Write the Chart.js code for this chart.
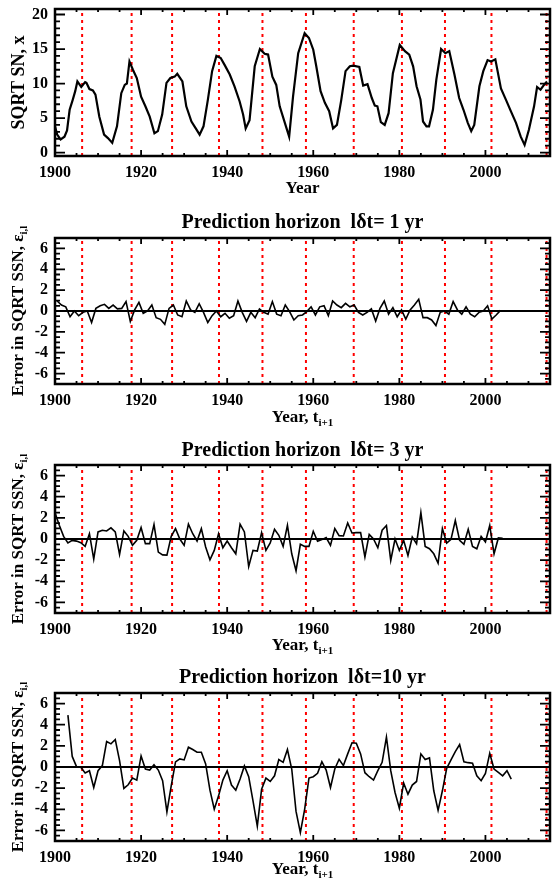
<!DOCTYPE html>
<html>
<head>
<meta charset="utf-8">
<title>SQRT sunspot number and prediction errors</title>
<script src="https://cdn.jsdelivr.net/npm/chart.js@4.4.1/dist/chart.umd.min.js"></script>
<style>
  html, body { margin: 0; padding: 0; background: #fff; }
  .panel { position: absolute; left: 0; }
</style>
</head>
<body>
<canvas id="sn" class="panel" width="552" height="200" style="top:0px"></canvas>
<canvas id="h1" class="panel" width="552" height="230" style="top:200px"></canvas>
<canvas id="h3" class="panel" width="552" height="226" style="top:430px"></canvas>
<canvas id="h10" class="panel" width="552" height="226" style="top:656px"></canvas>
<script>
const FONT = "'Liberation Serif', 'Times New Roman', serif";
Chart.defaults.font.family = FONT;
Chart.defaults.font.size = 16;
Chart.defaults.font.weight = 'bold';
Chart.defaults.color = '#000';

// shared x axis
const xTickYears = [1900, 1920, 1940, 1960, 1980, 2000];
// red dotted markers at the solar cycle maxima
const cycleMaxYears = [1906.3, 1917.8, 1927.2, 1938.1, 1948.2, 1958.3, 1969.4, 1980.6, 1990.6, 2001.4, 2014.2];

const snTicks = [0, 5, 10, 15, 20];
const errTicks = [-6, -4, -2, 0, 2, 4, 6];

// smoothed sqrt sunspot number
const snYears = [1900, 1900.5, 1901.3, 1902.2, 1902.8, 1903.4, 1904.1, 1904.7, 1905.2, 1906.1,
  1907.0, 1907.3, 1908.0, 1908.8, 1909.4, 1910.3, 1911.4, 1912.3, 1913.3, 1914.4,
  1915.4, 1916.2, 1916.7, 1917.3, 1918.1, 1919.0, 1920.0, 1921.0, 1922.0, 1923.1,
  1923.9, 1924.9, 1925.9, 1926.8, 1927.8, 1928.4, 1929.6, 1930.5, 1931.7, 1932.7,
  1933.6, 1934.5, 1935.5, 1936.5, 1937.5, 1938.5, 1939.4, 1940.6, 1941.7, 1942.9,
  1943.7, 1944.3, 1945.2, 1946.4, 1947.6, 1948.7, 1949.5, 1950.5, 1951.4, 1952.2,
  1953.4, 1954.4, 1955.3, 1956.5, 1958.0, 1959.0, 1960.0, 1960.7, 1961.7, 1962.7,
  1963.7, 1964.6, 1965.5, 1966.5, 1967.5, 1968.5, 1969.3, 1970.7, 1971.6, 1972.6,
  1973.6, 1974.3, 1974.9, 1975.7, 1976.6, 1977.5, 1978.5, 1980.1, 1981.3, 1982.3,
  1983.2, 1984.0, 1984.9, 1985.5, 1986.3, 1986.9, 1987.8, 1988.6, 1989.7, 1990.7,
  1991.6, 1992.8, 1993.9, 1994.9, 1995.9, 1996.7, 1997.4, 1998.6, 1999.5, 2000.5,
  2001.3, 2002.3, 2003.6, 2004.8, 2005.9, 2007.1, 2008.2, 2009.1, 2010.1, 2011.3,
  2012.0, 2012.8, 2013.6, 2014.3];
const snSqrt = [3.8, 2.6, 1.9, 2.3, 3.2, 6.2, 7.6, 8.9, 10.3, 9.5,
  10.2, 10.1, 9.2, 9.0, 8.4, 5.2, 2.6, 2.1, 1.4, 3.8,
  8.6, 9.8, 10.0, 13.2, 12.0, 10.8, 8.1, 6.7, 5.2, 2.8,
  3.1, 5.5, 10.1, 10.8, 11.0, 11.4, 10.3, 6.7, 4.5, 3.5,
  2.6, 3.8, 7.6, 11.8, 14.0, 13.7, 12.7, 11.3, 9.6, 7.4,
  5.5, 3.5, 4.7, 12.5, 15.0, 14.3, 14.2, 11.0, 9.8, 6.7,
  4.3, 2.3, 8.1, 14.4, 17.3, 16.6, 14.9, 12.5, 8.9, 7.2,
  6.0, 3.5, 4.0, 7.6, 11.8, 12.5, 12.6, 12.4, 9.7, 9.9,
  7.9, 6.8, 6.7, 4.4, 4.0, 5.7, 11.5, 15.6, 14.7, 14.2,
  12.5, 9.6, 7.7, 4.5, 3.8, 3.8, 6.2, 10.6, 15.0, 14.4,
  14.7, 11.3, 7.9, 6.2, 4.3, 3.1, 4.0, 9.6, 11.8, 13.4,
  13.2, 13.5, 9.3, 7.6, 6.0, 4.3, 2.3, 1.1, 3.3, 6.7,
  9.5, 9.1, 9.8, 10.3];

// prediction error, horizon 1 yr
const years1yr = [1900.5, 1901.5, 1902.5, 1903.5, 1904.5, 1905.5, 1906.5, 1907.5, 1908.5, 1909.5,
  1910.5, 1911.5, 1912.5, 1913.5, 1914.5, 1915.5, 1916.5, 1917.5, 1918.5, 1919.5,
  1920.5, 1921.5, 1922.5, 1923.5, 1924.5, 1925.5, 1926.5, 1927.5, 1928.5, 1929.5,
  1930.5, 1931.5, 1932.5, 1933.5, 1934.5, 1935.5, 1936.5, 1937.5, 1938.5, 1939.5,
  1940.5, 1941.5, 1942.5, 1943.5, 1944.5, 1945.5, 1946.5, 1947.5, 1948.5, 1949.5,
  1950.5, 1951.5, 1952.5, 1953.5, 1954.5, 1955.5, 1956.5, 1957.5, 1958.5, 1959.5,
  1960.5, 1961.5, 1962.5, 1963.5, 1964.5, 1965.5, 1966.5, 1967.5, 1968.5, 1969.5,
  1970.5, 1971.5, 1972.5, 1973.5, 1974.5, 1975.5, 1976.5, 1977.5, 1978.5, 1979.5,
  1980.5, 1981.5, 1982.5, 1983.5, 1984.5, 1985.5, 1986.5, 1987.5, 1988.5, 1989.5,
  1990.5, 1991.5, 1992.5, 1993.5, 1994.5, 1995.5, 1996.5, 1997.5, 1998.5, 1999.5,
  2000.5, 2001.5, 2002.5, 2003.5];
const err1yr = [0.96, 0.57, 0.4, -0.55, 0.0, -0.45, -0.13, 0.0, -1.1, 0.25,
  0.5, 0.64, 0.25, 0.57, 0.2, 0.25, 0.9, -1.0, 0.1, 0.83,
  -0.22, 0.0, 0.57, -0.64, -0.8, -1.28, 0.25, 0.57, -0.38, -0.55,
  0.96, 0.1, -0.13, 0.7, -0.13, -1.1, -0.45, 0.0, -0.55, -0.22,
  -0.7, -0.45, 0.96, -0.13, -1.0, -0.13, -0.64, 0.2, -0.13, -0.3,
  0.9, -0.3, -0.45, 0.57, -0.06, -0.86, -0.45, -0.38, -0.06, 0.4,
  -0.38, 0.4, 0.5, -0.45, 0.96, 0.57, 0.32, 0.73, 0.4, 0.57,
  -0.13, -0.38, -0.13, 0.2, -0.96, 0.25, 0.96, -0.3, 0.32, -0.55,
  0.1, -0.77, 0.1, 0.57, 1.12, -0.64, -0.64, -0.86, -1.4, -0.13,
  0.0, -0.3, 0.9, 0.1, -0.3, 0.4, -0.3, -0.55, -0.13, 0.0,
  0.5, -0.77, -0.38, 0.06];

// prediction error, horizon 3 yr
const years3yr = [1900, 1901, 1902, 1903, 1904, 1905, 1906, 1907, 1908, 1909,
  1910, 1911, 1912, 1913, 1914, 1915, 1916, 1917, 1918, 1919,
  1920, 1921, 1922, 1923, 1924, 1925, 1926, 1927, 1928, 1929,
  1930, 1931, 1932, 1933, 1934, 1935, 1936, 1937, 1938, 1939,
  1940, 1941, 1942, 1943, 1944, 1945, 1946, 1947, 1948, 1949,
  1950, 1951, 1952, 1953, 1954, 1955, 1956, 1957, 1958, 1959,
  1960, 1961, 1962, 1963, 1964, 1965, 1966, 1967, 1968, 1969,
  1970, 1971, 1972, 1973, 1974, 1975, 1976, 1977, 1978, 1979,
  1980, 1981, 1982, 1983, 1984, 1985, 1986, 1987, 1988, 1989,
  1990, 1991, 1992, 1993, 1994, 1995, 1996, 1997, 1998, 1999,
  2000, 2001, 2002, 2003, 2004];
const err3yr = [2.48, 1.3, 0.25, -0.38, -0.13, -0.2, -0.35, -0.7, 0.5, -1.9,
  0.67, 0.83, 0.76, 1.05, 0.67, -1.46, 0.76, 0.25, -0.6, -0.13,
  1.08, -0.44, -0.44, 1.37, -1.24, -1.5, -1.52, 0.25, 0.98, 0.0,
  -0.6, 1.4, 0.5, -0.19, 0.98, -0.76, -1.97, -1.08, 0.5, -0.83,
  -0.19, -0.83, -1.4, 1.4, 0.67, -2.6, -1.08, -1.14, 0.6, -1.08,
  -0.38, 0.92, 0.35, -0.7, 1.3, -1.4, -3.0, -0.5, -0.7, -0.7,
  0.73, -0.22, -0.06, 0.13, -0.6, 0.98, 0.32, 0.29, 1.52, 0.57,
  0.6, 0.6, -1.7, 0.44, 0.0, -0.83, 0.83, 1.27, -2.03, 0.0,
  -1.08, -0.13, -1.56, 0.19, -0.44, 2.5, -0.7, -0.92, -1.4, -2.29,
  0.98, -0.38, -0.03, 1.75, -0.13, -0.5, 0.92, -0.7, -0.92, 0.25,
  -0.29, 1.27, -1.4, 0.1, 0.06];

// prediction error, horizon 10 yr
const years10yr = [1903, 1904, 1905, 1906, 1907, 1908, 1909,
  1910, 1911, 1912, 1913, 1914, 1915, 1916, 1917, 1918, 1919,
  1920, 1921, 1922, 1923, 1924, 1925, 1926, 1927, 1928, 1929,
  1930, 1931, 1932, 1933, 1934, 1935, 1936, 1937, 1938, 1939,
  1940, 1941, 1942, 1943, 1944, 1945, 1946, 1947, 1948, 1949,
  1950, 1951, 1952, 1953, 1954, 1955, 1956, 1957, 1958, 1959,
  1960, 1961, 1962, 1963, 1964, 1965, 1966, 1967, 1968, 1969,
  1970, 1971, 1972, 1973, 1974, 1975, 1976, 1977, 1978, 1979,
  1980, 1981, 1982, 1983, 1984, 1985, 1986, 1987, 1988, 1989,
  1990, 1991, 1992, 1993, 1994, 1995, 1996, 1997, 1998, 1999,
  2000, 2001, 2002, 2003, 2004, 2005, 2006];
const err10yr = [4.9, 1.0, 0.03, -0.03, -0.57, -0.35, -1.94,
  -0.35, 0.13, 2.41, 2.19, 2.6, 0.6, -2.03, -1.68, -1.05, -1.24,
  1.05, -0.19, -0.29, 0.22, -0.29, -1.3, -4.25, -1.78, 0.48, 0.76,
  0.67, 1.87, 1.65, 1.4, 1.4, 0.29, -2.19, -4.0, -2.73, -1.24,
  -0.35, -1.71, -2.19, -1.14, 0.1, -0.92, -3.2, -5.59, -2.1, -1.05,
  -1.37, -0.83, 0.7, 0.44, 1.65, -0.19, -4.2, -6.2, -4.0, -1.05,
  -0.92, -0.6, 0.5, -0.29, -1.94, -0.19, 0.73, 0.13, 1.24, 2.29,
  2.25, 1.24, -0.54, -0.92, -1.24, -0.35, 0.44, 2.83, -0.35, -2.41,
  -3.9, -1.52, -2.57, -1.71, -1.37, 1.24, 0.7, 0.86, -2.25, -4.1,
  -2.25, -0.13, 0.67, 1.46, 2.13, 0.5, 0.41, 0.35, -0.83, -1.3,
  -0.6, 1.3, -0.19, -0.51, -0.83, -0.35, -1.14];

function toPoints(xs, ys) {
  return xs.map((x, i) => ({ x: x, y: ys[i] }));
}

// text with optional subscript pieces, centred on (cx, cy)
function drawRich(ctx, parts, cx, cy, size) {
  const subSize = Math.round(size * 0.62);
  const widths = parts.map(p => {
    ctx.font = 'bold ' + (p.sub ? subSize : size) + 'px ' + FONT;
    return ctx.measureText(p.t).width;
  });
  let x = cx - widths.reduce((s, w) => s + w, 0) / 2;
  ctx.textAlign = 'left';
  ctx.textBaseline = 'middle';
  parts.forEach((p, i) => {
    ctx.font = 'bold ' + (p.sub ? subSize : size) + 'px ' + FONT;
    ctx.fillText(p.t, x, cy + (p.sub ? size * 0.32 : 0));
    x += widths[i];
  });
}

function makePanel(id, p) {
  const datasets = [{
    data: toPoints(p.years, p.values),
    borderColor: '#000', borderWidth: p.lineWidth, pointRadius: 0, order: 0
  }];
  if (p.zeroLine) {
    datasets.push({
      data: [{ x: 1900, y: 0 }, { x: 2015, y: 0 }],
      borderColor: '#000', borderWidth: 1.8, pointRadius: 0, order: 1
    });
  }
  cycleMaxYears.forEach(yr => {
    datasets.push({
      data: [{ x: yr, y: p.yMin }, { x: yr, y: p.yMax }],
      borderColor: '#ff0000', borderWidth: 2, borderDash: [3, 4], pointRadius: 0, order: 2
    });
  });

  const frame = {
    id: 'frame',
    afterDatasetsDraw(chart) {
      const { ctx, chartArea: a, scales: { x, y } } = chart;
      ctx.save();
      ctx.strokeStyle = '#000';
      ctx.lineWidth = 1.8;
      ctx.beginPath();
      // inward ticks: years every 5, long every 20
      for (let v = 1900; v <= 2015; v += 5) {
        const px = x.getPixelForValue(v);
        const len = (v - 1900) % 20 === 0 ? 6 : 3;
        ctx.moveTo(px, a.bottom); ctx.lineTo(px, a.bottom - len);
        ctx.moveTo(px, a.top); ctx.lineTo(px, a.top + len);
      }
      for (let k = Math.ceil(p.yMin / p.yMinor); k * p.yMinor <= p.yMax; k++) {
        const v = k * p.yMinor;
        const py = y.getPixelForValue(v);
        const major = Math.abs(v / p.yMajor - Math.round(v / p.yMajor)) < 1e-6;
        const len = major ? 10 : 5;
        ctx.moveTo(a.left, py); ctx.lineTo(a.left + len, py);
        ctx.moveTo(a.right, py); ctx.lineTo(a.right - len, py);
      }
      ctx.stroke();
      ctx.lineWidth = 2.5;
      ctx.strokeRect(a.left, a.top, a.right - a.left, a.bottom - a.top);
      ctx.restore();
    },
    afterDraw(chart) {
      const { ctx, chartArea: a } = chart;
      ctx.save();
      ctx.fillStyle = '#000';
      const cx = (a.left + a.right) / 2;
      if (p.title) {
        ctx.font = 'bold 20px ' + FONT;
        ctx.textAlign = 'center';
        ctx.textBaseline = 'middle';
        ctx.fillText(p.title, cx, p.titleY);
      }
      drawRich(ctx, p.xTitle, cx, p.xTitleY, 17);
      ctx.translate(19, (a.top + a.bottom) / 2);
      ctx.rotate(-Math.PI / 2);
      drawRich(ctx, p.yTitle, 0, 0, p.yTitleSize || 17);
      ctx.restore();
    }
  };

  return new Chart(document.getElementById(id), {
    type: 'line',
    data: { datasets: datasets },
    options: {
      responsive: false,
      animation: false,
      events: [],
      layout: { padding: { top: p.top, right: 2, bottom: 0, left: 0 } },
      plugins: { legend: { display: false }, tooltip: { enabled: false } },
      elements: { line: { tension: 0 } },
      scales: {
        x: {
          type: 'linear', min: 1900, max: 2015,
          grid: { display: false, drawTicks: false },
          border: { display: false },
          ticks: { padding: 7, autoSkip: false, maxRotation: 0, callback: v => String(v) },
          afterBuildTicks: s => { s.ticks = xTickYears.map(v => ({ value: v })); },
          afterFit: s => { s.height = p.xAxisH; s.paddingLeft = 0; s.paddingRight = 0; }
        },
        y: {
          type: 'linear', min: p.yMin, max: p.yMax,
          grid: { display: false, drawTicks: false },
          border: { display: false },
          ticks: { padding: 7, autoSkip: false, callback: v => String(v) },
          afterBuildTicks: s => { s.ticks = p.yTicks.map(v => ({ value: v })); },
          afterFit: s => { s.width = 55; s.paddingTop = 0; s.paddingBottom = 0; }
        }
      }
    },
    plugins: [frame]
  });
}

const yearAxisTitle = [{ t: 'Year, t' }, { t: 'i+1', sub: true }];
const errAxisTitle = [{ t: 'Error in SQRT SSN, \u03b5' }, { t: 'i,l', sub: true }];

makePanel('sn', {
  years: snYears, values: snSqrt, lineWidth: 2.2, zeroLine: false,
  yMin: -0.5, yMax: 20.8, yTicks: snTicks, yMinor: 1, yMajor: 5,
  top: 9, xAxisH: 44,
  title: null, xTitle: [{ t: 'Year' }], xTitleY: 189,
  yTitle: [{ t: 'SQRT SN, x' }], yTitleSize: 18
});

makePanel('h1', {
  years: years1yr, values: err1yr, lineWidth: 1.6, zeroLine: true,
  yMin: -7, yMax: 7, yTicks: errTicks, yMinor: 0.5, yMajor: 2,
  top: 38, xAxisH: 46,
  title: 'Prediction horizon  l\u03b4t= 1 yr', titleY: 23,
  xTitle: yearAxisTitle, xTitleY: 218, yTitle: errAxisTitle
});

makePanel('h3', {
  years: years3yr, values: err3yr, lineWidth: 1.6, zeroLine: true,
  yMin: -7, yMax: 7, yTicks: errTicks, yMinor: 0.5, yMajor: 2,
  top: 35, xAxisH: 43,
  title: 'Prediction horizon  l\u03b4t= 3 yr', titleY: 21,
  xTitle: yearAxisTitle, xTitleY: 216, yTitle: errAxisTitle
});

makePanel('h10', {
  years: years10yr, values: err10yr, lineWidth: 1.6, zeroLine: true,
  yMin: -7, yMax: 7, yTicks: errTicks, yMinor: 0.5, yMajor: 2,
  top: 37, xAxisH: 41,
  title: 'Prediction horizon  l\u03b4t=10 yr', titleY: 22,
  xTitle: yearAxisTitle, xTitleY: 214, yTitle: errAxisTitle
});
</script>
</body>
</html>
